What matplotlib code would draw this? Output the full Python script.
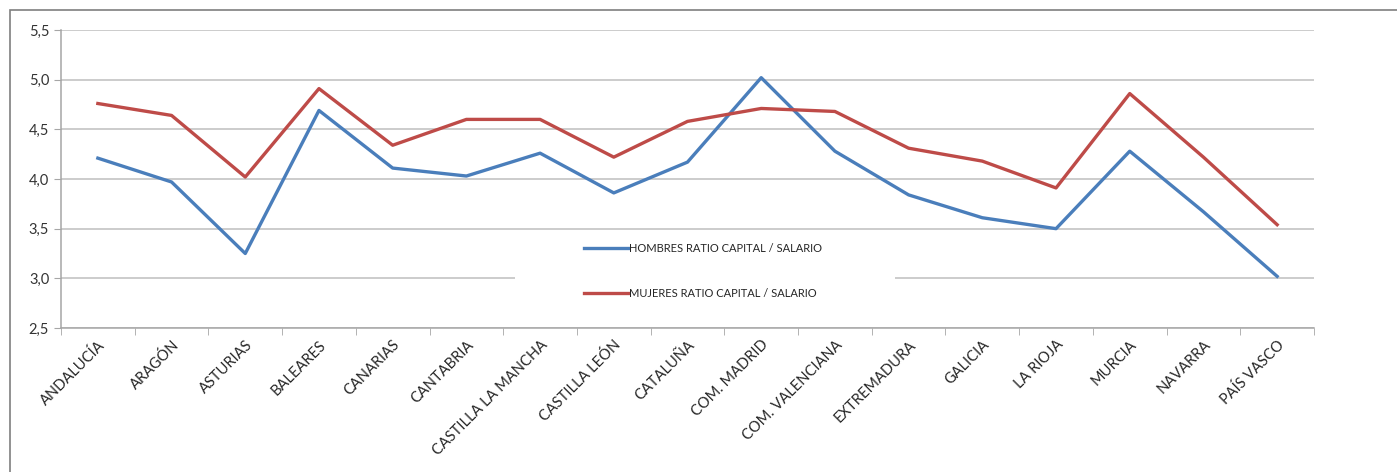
import matplotlib.pyplot as plt
from matplotlib.patches import Rectangle
from matplotlib.ticker import FuncFormatter, FixedLocator
import numpy as np

plt.rcParams['font.family'] = ['Lato', 'DejaVu Sans']

regiones = ['ANDALUCÍA', 'ARAGÓN', 'ASTURIAS', 'BALEARES', 'CANARIAS', 'CANTABRIA',
            'CASTILLA LA MANCHA', 'CASTILLA LEÓN', 'CATALUÑA', 'COM. MADRID',
            'COM. VALENCIANA', 'EXTREMADURA', 'GALICIA', 'LA RIOJA', 'MURCIA',
            'NAVARRA', 'PAÍS VASCO']
hombres = [4.21, 3.97, 3.25, 4.69, 4.11, 4.03, 4.26, 3.86, 4.17, 5.02,
           4.28, 3.84, 3.61, 3.50, 4.28, 3.67, 3.02]
mujeres = [4.76, 4.64, 4.02, 4.91, 4.34, 4.60, 4.60, 4.22, 4.58, 4.71,
           4.68, 4.31, 4.18, 3.91, 4.86, 4.22, 3.54]

blue = '#4a7ebb'
red = '#be4b48'
grey = '#a6a6a6'

fig = plt.figure(figsize=(13.97, 4.72), dpi=100)
ax = fig.add_axes([61/1397, 1-328/472, 1253/1397, 298/472])

# outer chart frame (cut off at right and bottom)
fig.patches.append(Rectangle((10/1397, -0.1), 1.2, 1.1 - 10/472,
                             transform=fig.transFigure, fill=False,
                             edgecolor='#7f7f7f', lw=1.2, zorder=0))

x = np.arange(len(regiones))
ax.plot(x, hombres, color=blue, lw=2.4, label='HOMBRES RATIO CAPITAL / SALARIO', zorder=4)
ax.plot(x, mujeres, color=red, lw=2.4, label='MUJERES RATIO CAPITAL / SALARIO', zorder=4)

ax.set_xlim(-0.5, len(regiones) - 0.5)
ax.set_ylim(2.5, 5.5)
ax.set_yticks(np.arange(2.5, 5.51, 0.5))
ax.yaxis.set_major_formatter(FuncFormatter(lambda v, p: f'{v:.1f}'.replace('.', ',')))
ax.grid(axis='y', color='#bfbfbf', lw=1.1, zorder=1)
ax.set_axisbelow(True)

ax.set_xticks(x)
ax.set_xticklabels(regiones, rotation=45, ha='right', rotation_mode='anchor',
                   fontsize=10.5, color='#262626')
ax.tick_params(axis='x', which='major', length=0, pad=7)
ax.xaxis.set_minor_locator(FixedLocator(np.arange(-0.5, len(regiones), 1)))
ax.tick_params(axis='x', which='minor', length=5, color=grey, direction='out')
ax.tick_params(axis='y', length=5, color=grey, labelsize=10.5, labelcolor='#333333')

for s in ['top', 'right']:
    ax.spines[s].set_visible(False)
for s in ['left', 'bottom']:
    ax.spines[s].set_color(grey)
    ax.spines[s].set_linewidth(1.1)

# white legend box
ax.add_patch(Rectangle(((515-61)/1253, (328-308)/298), 380/1253, 72/298,
                       transform=ax.transAxes, facecolor='white', edgecolor='none', zorder=2))
leg = ax.legend(loc='center left', bbox_to_anchor=((578-61)/1253, (328-271)/298),
                frameon=False, fontsize=8, handlelength=4.0, handletextpad=0.1,
                labelspacing=3.0, borderpad=0)
for t in leg.get_texts():
    t.set_color('#262626')

fig.savefig('out.png', dpi=100)
